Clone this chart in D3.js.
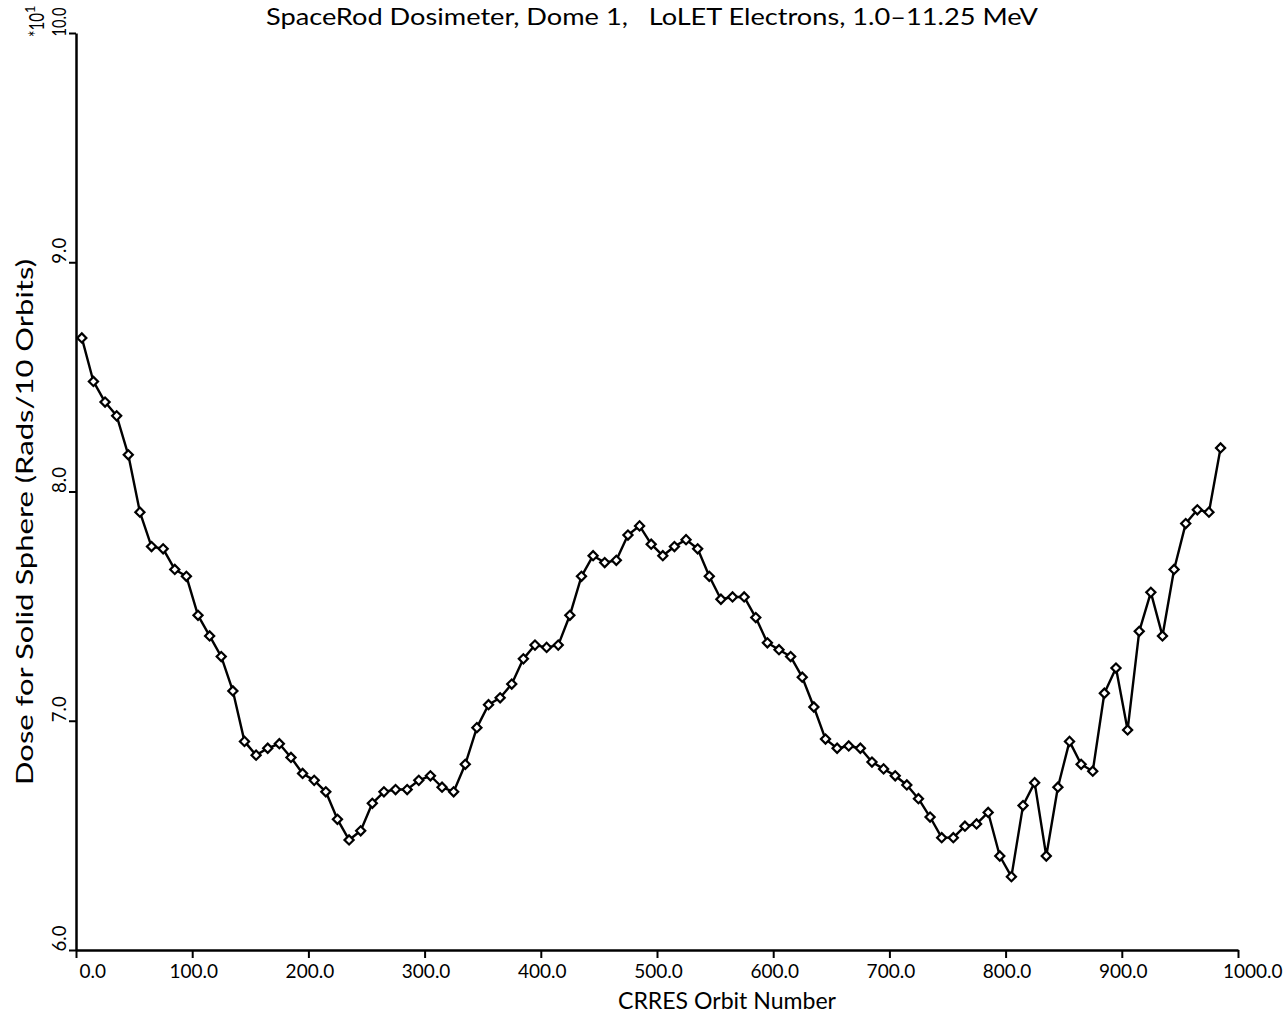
<!DOCTYPE html>
<html>
<head>
<meta charset="utf-8">
<script src="https://cdn.jsdelivr.net/npm/d3@7"></script>
<style>
  html, body { margin: 0; padding: 0; background: #fff; }
  svg { display: block; }
  text { font-family: Lato, "Open Sans", sans-serif; fill: #000; }
</style>
</head>
<body>
<svg id="chart" width="1288" height="1017"></svg>
<script>
// CRRES orbit (centre of each 10-orbit bin)
const orbits = [
  5, 15, 25, 35, 45, 55, 65, 75, 85, 95,
  105, 115, 125, 135, 145, 155, 165, 175, 185, 195,
  205, 215, 225, 235, 245, 255, 265, 275, 285, 295,
  305, 315, 325, 335, 345, 355, 365, 375, 385, 395,
  405, 415, 425, 435, 445, 455, 465, 475, 485, 495,
  505, 515, 525, 535, 545, 555, 565, 575, 585, 595,
  605, 615, 625, 635, 645, 655, 665, 675, 685, 695,
  705, 715, 725, 735, 745, 755, 765, 775, 785, 795,
  805, 815, 825, 835, 845, 855, 865, 875, 885, 895,
  905, 915, 925, 935, 945, 955, 965, 975, 985
];

// Dose for solid sphere, rads per 10 orbits (x10^1)
const dose = [
  8.67, 8.48, 8.39, 8.33, 8.16, 7.91, 7.76, 7.75, 7.66, 7.63,
  7.46, 7.37, 7.28, 7.13, 6.91, 6.85, 6.88, 6.90, 6.84, 6.77,
  6.74, 6.69, 6.57, 6.48, 6.52, 6.64, 6.69, 6.70, 6.70, 6.74,
  6.76, 6.71, 6.69, 6.81, 6.97, 7.07, 7.10, 7.16, 7.27, 7.33,
  7.32, 7.33, 7.46, 7.63, 7.72, 7.69, 7.70, 7.81, 7.85, 7.77,
  7.72, 7.76, 7.79, 7.75, 7.63, 7.53, 7.54, 7.54, 7.45, 7.34,
  7.31, 7.28, 7.19, 7.06, 6.92, 6.88, 6.89, 6.88, 6.82, 6.79,
  6.76, 6.72, 6.66, 6.58, 6.49, 6.49, 6.54, 6.55, 6.60, 6.41,
  6.32, 6.63, 6.73, 6.41, 6.71, 6.91, 6.81, 6.78, 7.12, 7.23,
  6.96, 7.39, 7.56, 7.37, 7.66, 7.86, 7.92, 7.91, 8.19
];

const xTicks = [0, 100, 200, 300, 400, 500, 600, 700, 800, 900, 1000];
const yTicks = [6, 7, 8, 9, 10];

const titleText = "SpaceRod Dosimeter, Dome 1,   LoLET Electrons, 1.0\u201311.25 MeV";
const xLabel = "CRRES Orbit Number";
const yLabel = "Dose for Solid Sphere (Rads/10 Orbits)";

const svg = d3.select("#chart");

const x = d3.scaleLinear().domain([0, 1000]).range([76, 1238]);
const y = d3.scaleLinear().domain([6, 10]).range([950, 33]);

// x axis
const gx = svg.append("g")
  .attr("transform", `translate(0,${y(6)})`)
  .call(d3.axisBottom(x).tickValues(xTicks).tickSize(8).tickSizeOuter(0)
    .tickFormat(d3.format(".1f")));
gx.select(".domain").attr("stroke-width", 2.5);
gx.selectAll(".tick line").attr("stroke-width", 2);
gx.selectAll(".tick text")
  .attr("font-size", 19)
  .attr("font-family", "Lato, sans-serif")
  .attr("y", 0).attr("dy", 28)
  .attr("text-anchor", d => d === 0 ? "start" : (d === 1000 ? "end" : "middle"))
  .attr("x", d => d === 0 ? 3 : (d === 1000 ? 44 : 1));

// y axis
const gy = svg.append("g")
  .attr("transform", `translate(${x(0)},0)`)
  .call(d3.axisLeft(y).tickValues(yTicks).tickSize(7).tickSizeOuter(0)
    .tickFormat(d3.format(".1f")));
gy.select(".domain").attr("stroke-width", 2.5);
gy.selectAll(".tick line").attr("stroke-width", 2);
gy.selectAll(".tick text")
  .attr("font-size", 19)
  .attr("font-family", "Lato, sans-serif")
  .attr("x", d => d >= 10 ? -2 : 0).attr("y", 0).attr("dy", 0)
  .attr("text-anchor", "start")
  .attr("textLength", d => d >= 10 ? 29 : 26)
  .attr("lengthAdjust", "spacingAndGlyphs")
  .attr("transform", "translate(-10,1) rotate(-90)");

// exponent marker beside the top tick label
const expo = svg.append("text")
  .attr("transform", "translate(44,37) rotate(-90)")
  .attr("font-size", 21)
  .attr("text-anchor", "start");
expo.append("tspan").attr("textLength", 24).attr("lengthAdjust", "spacingAndGlyphs").text("*10");
expo.append("tspan").attr("font-size", 13).attr("dy", -9).text("1");

// title
svg.append("text")
  .attr("x", 652).attr("y", 25)
  .attr("text-anchor", "middle")
  .attr("font-size", 23)
  .attr("textLength", 772)
  .attr("lengthAdjust", "spacingAndGlyphs")
  .style("white-space", "pre")
  .text(titleText);

// axis titles
svg.append("text")
  .attr("x", 727).attr("y", 1009)
  .attr("text-anchor", "middle")
  .attr("font-size", 23)
  .attr("textLength", 218)
  .attr("lengthAdjust", "spacingAndGlyphs")
  .text(xLabel);

svg.append("text")
  .attr("transform", "translate(33,522) rotate(-90)")
  .attr("text-anchor", "middle")
  .attr("font-size", 23)
  .attr("textLength", 526)
  .attr("lengthAdjust", "spacingAndGlyphs")
  .text(yLabel);

// dose curve
const pts = orbits.map((o, i) => [o, dose[i]]);
svg.append("path")
  .datum(pts)
  .attr("fill", "none")
  .attr("stroke", "#000")
  .attr("stroke-width", 2.4)
  .attr("stroke-linejoin", "round")
  .attr("d", d3.line().x(d => x(d[0])).y(d => y(d[1])));

// diamond markers
const sym = d3.symbol().type(d3.symbolSquare).size(42);
svg.append("g").selectAll("path")
  .data(pts)
  .join("path")
  .attr("transform", d => `translate(${x(d[0])},${y(d[1])}) rotate(45)`)
  .attr("d", sym)
  .attr("fill", "#fff")
  .attr("stroke", "#000")
  .attr("stroke-width", 2.2);
</script>
</body>
</html>
